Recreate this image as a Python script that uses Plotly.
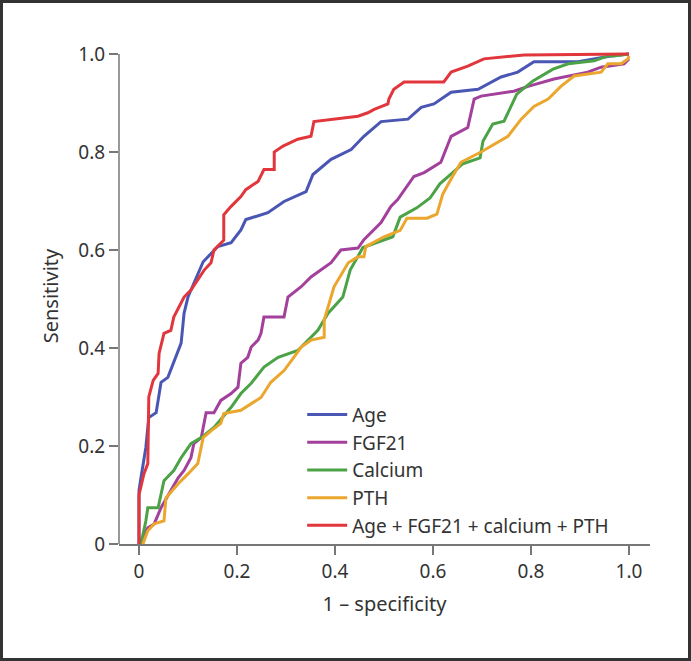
import plotly.graph_objects as go

# ---- data ----
age_x = [0, 0, 0.004, 0.014, 0.02, 0.035, 0.045, 0.059, 0.086, 0.092, 0.1, 0.112, 0.131, 0.161, 0.188, 0.208, 0.218,
         0.263, 0.296, 0.341, 0.355, 0.392, 0.433, 0.459, 0.494, 0.549, 0.576, 0.602, 0.637, 0.692, 0.739, 0.773,
         0.806, 0.896, 0.963, 1.0]
age_y = [0, 0.109, 0.135, 0.197, 0.258, 0.268, 0.33, 0.34, 0.41, 0.471, 0.504, 0.533, 0.576, 0.607, 0.615, 0.641, 0.662,
         0.676, 0.699, 0.719, 0.754, 0.785, 0.805, 0.832, 0.862, 0.867, 0.891, 0.898, 0.922, 0.928, 0.953, 0.963,
         0.984, 0.984, 0.996, 1.0]

fgf_x = [0, 0.018, 0.031, 0.045, 0.065, 0.08, 0.092, 0.106, 0.112, 0.127, 0.137, 0.153, 0.167, 0.188, 0.202, 0.208,
         0.222, 0.229, 0.243, 0.249, 0.255, 0.296, 0.304, 0.331, 0.351, 0.371, 0.392, 0.412, 0.447, 0.459, 0.48,
         0.494, 0.514, 0.528, 0.561, 0.582, 0.616, 0.637, 0.671, 0.684, 0.698, 0.765, 0.794, 0.847, 0.916, 0.943,
         0.99, 1.0]
fgf_y = [0, 0.033, 0.041, 0.074, 0.109, 0.135, 0.15, 0.176, 0.205, 0.217, 0.268, 0.268, 0.293, 0.307, 0.32, 0.369,
         0.381, 0.402, 0.416, 0.43, 0.463, 0.463, 0.504, 0.525, 0.545, 0.559, 0.574, 0.60, 0.604, 0.621, 0.641,
         0.656, 0.689, 0.703, 0.75, 0.758, 0.779, 0.832, 0.850, 0.908, 0.914, 0.924, 0.934, 0.949, 0.963, 0.973,
         0.98, 0.99]

ca_x = [0.004, 0.014, 0.018, 0.039, 0.051, 0.071, 0.086, 0.106, 0.127, 0.153, 0.188, 0.208, 0.229, 0.255, 0.284,
        0.324, 0.365, 0.386, 0.416, 0.431, 0.457, 0.518, 0.533, 0.567, 0.594, 0.614, 0.661, 0.696, 0.702, 0.722,
        0.745, 0.771, 0.804, 0.845, 0.876, 0.929, 0.957, 0.969, 1.0]
ca_y = [0, 0.047, 0.074, 0.074, 0.129, 0.15, 0.176, 0.205, 0.217, 0.238, 0.279, 0.307, 0.328, 0.361, 0.381,
        0.395, 0.436, 0.471, 0.504, 0.559, 0.605, 0.627, 0.667, 0.686, 0.706, 0.735, 0.776, 0.788, 0.822, 0.857,
        0.863, 0.918, 0.945, 0.969, 0.98, 0.986, 0.996, 0.996, 1.0]

pth_x = [0.008, 0.018, 0.031, 0.051, 0.055, 0.08, 0.1, 0.12, 0.131, 0.147, 0.167, 0.173, 0.208, 0.229, 0.249, 0.269,
         0.29, 0.296, 0.316, 0.331, 0.351, 0.378, 0.378, 0.398, 0.427, 0.447, 0.459, 0.463, 0.5, 0.533, 0.547,
         0.588, 0.608, 0.614, 0.62, 0.637, 0.657, 0.698, 0.718, 0.753, 0.78, 0.806, 0.835, 0.861, 0.888, 0.943,
         0.957, 0.984, 0.998, 1.0]
pth_y = [0, 0.027, 0.041, 0.047, 0.094, 0.123, 0.143, 0.164, 0.217, 0.231, 0.246, 0.266, 0.273, 0.287, 0.299, 0.33,
         0.35, 0.354, 0.381, 0.402, 0.416, 0.422, 0.457, 0.525, 0.574, 0.586, 0.586, 0.607, 0.627, 0.64, 0.665,
         0.665, 0.673, 0.696, 0.714, 0.745, 0.779, 0.80, 0.812, 0.832, 0.867, 0.893, 0.908, 0.934, 0.955, 0.963,
         0.98, 0.98, 0.99, 0.996]

comb_x = [0, 0, 0.01, 0.018, 0.02, 0.029, 0.039, 0.041, 0.051, 0.065, 0.071, 0.08, 0.092, 0.106, 0.12, 0.133, 0.147,
          0.153, 0.173, 0.173, 0.188, 0.208, 0.218, 0.243, 0.255, 0.276, 0.276, 0.294, 0.324, 0.351, 0.357, 0.396,
          0.447, 0.467, 0.48, 0.508, 0.51, 0.52, 0.541, 0.622, 0.637, 0.671, 0.704, 0.786, 1.0]
comb_y = [0, 0.1, 0.143, 0.164, 0.30, 0.334, 0.348, 0.389, 0.43, 0.436, 0.463, 0.481, 0.504, 0.518, 0.539, 0.559, 0.574,
          0.60, 0.62, 0.672, 0.689, 0.709, 0.723, 0.74, 0.764, 0.764, 0.80, 0.812, 0.826, 0.832, 0.862, 0.867,
          0.873, 0.88, 0.887, 0.898, 0.908, 0.928, 0.943, 0.943, 0.963, 0.975, 0.99, 0.998, 1.0]

series_names = ["Age", "FGF21", "Calcium", "PTH", "Age + FGF21 + calcium + PTH"]
series_colors = ["#4a56b4", "#a3409b", "#4ca246", "#eba62d", "#e2363d"]
tick_vals = [0, 0.2, 0.4, 0.6, 0.8, 1.0]
tick_text = ["0", "0.2", "0.4", "0.6", "0.8", "1.0"]

FONT = "Noto Sans"
fig = go.Figure()
for name, color, xs, ys in zip(series_names, series_colors,
                               [age_x, fgf_x, ca_x, pth_x, comb_x],
                               [age_y, fgf_y, ca_y, pth_y, comb_y]):
    fig.add_trace(go.Scatter(x=xs, y=ys, mode="lines", name=name,
                             line=dict(color=color, width=3)))

fig.update_layout(
    width=691, height=661,
    margin=dict(l=119, r=41, t=48, b=117),
    paper_bgcolor="white", plot_bgcolor="white",
    font=dict(family=FONT, size=19, color="#333333"),
    showlegend=True,
    legend=dict(x=0.345, y=0.299, xanchor="left", yanchor="top",
                bgcolor="rgba(0,0,0,0)", font=dict(size=19, color="#333333"),
                itemwidth=40),
    xaxis=dict(range=[-0.0408, 1.0429], tickvals=tick_vals, ticktext=tick_text,
               showgrid=False, zeroline=False, showline=True, linecolor="#777777", linewidth=1.5,
               ticks="outside", ticklen=9, tickcolor="#777777", tickwidth=1.5,
               tickfont=dict(size=19),
               title=dict(text="1 – specificity", standoff=14, font=dict(size=20))),
    yaxis=dict(range=[0, 1.0122], tickvals=tick_vals, ticktext=tick_text,
               showgrid=False, zeroline=False, showline=False,
               ticks="outside", ticklen=9, tickcolor="#777777", tickwidth=1.5,
               tickfont=dict(size=19),
               title=dict(text="Sensitivity", standoff=14, font=dict(size=20))),
    shapes=[
        dict(type="line", xref="paper", yref="y", x0=0, x1=0, y0=0, y1=1,
             line=dict(color="#777777", width=1.5)),
        dict(type="rect", xref="paper", yref="paper",
             x0=(1.5 - 119) / 531, x1=(689.5 - 119) / 531,
             y0=(544 - 659.5) / 496, y1=(544 - 1.5) / 496,
             line=dict(color="#333333", width=3), fillcolor="rgba(0,0,0,0)", layer="below"),
    ],
)

fig.write_html("out.html", config={"displayModeBar": False},
               post_script="document.body.style.margin='0';")
